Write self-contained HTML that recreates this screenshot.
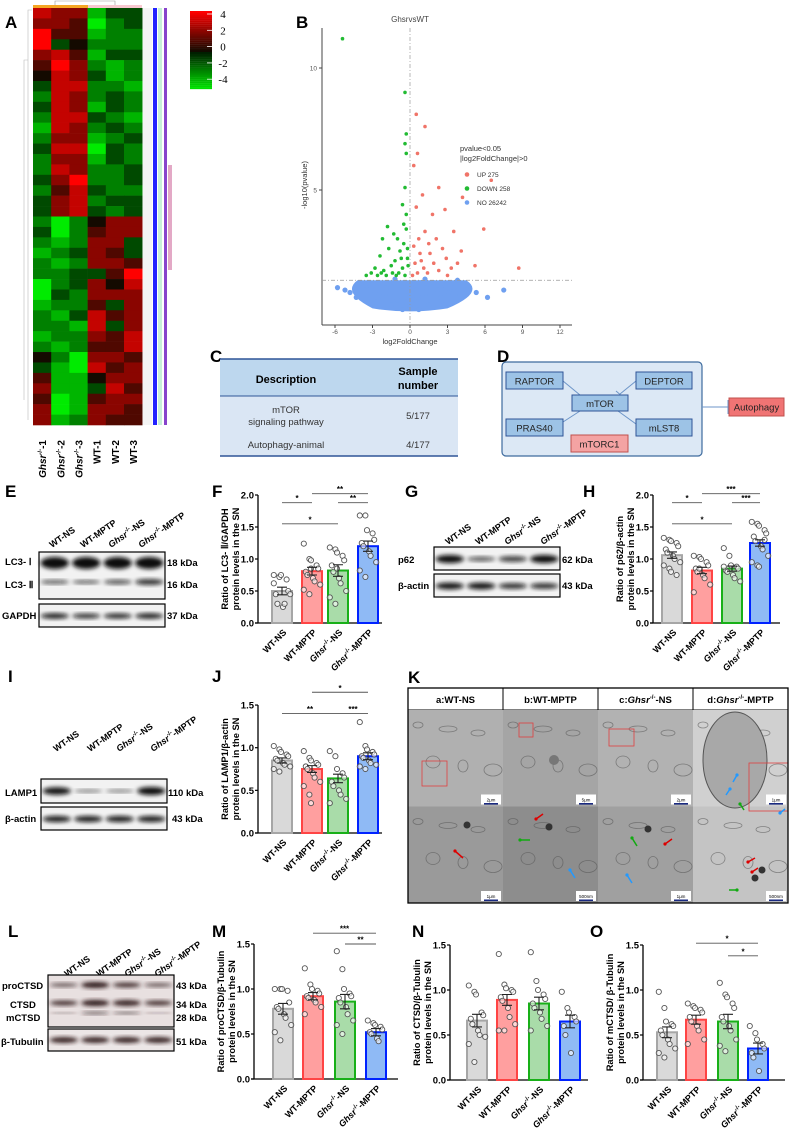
<!DOCTYPE html>
<html><head><meta charset="utf-8">
<style>
html,body{margin:0;padding:0;background:#fff;}
svg{display:block;font-family:"Liberation Sans",Arial,sans-serif;}
.b{font-weight:bold;}
</style></head>
<body>
<svg id="fig" width="790" height="1134" viewBox="0 0 790 1134" xmlns="http://www.w3.org/2000/svg">
<defs>
<filter id="blur" x="-20%" y="-50%" width="140%" height="200%"><feGaussianBlur stdDeviation="2"/></filter>
</defs>
<!-- panel letters -->
<g class="b" font-size="17" fill="#000">
<text x="5" y="28">A</text><text x="296" y="28">B</text><text x="210" y="362">C</text><text x="497" y="362">D</text>
<text x="5" y="497">E</text><text x="212" y="497">F</text><text x="405" y="497">G</text><text x="583" y="497">H</text>
<text x="8" y="682">I</text><text x="212" y="682">J</text><text x="408" y="683">K</text>
<text x="8" y="937">L</text><text x="212" y="937">M</text><text x="412" y="937">N</text><text x="590" y="937">O</text>
</g>
<g id="heat"></g>
<g id="volc"></g>
<!-- C table -->
<g>
<rect x="220" y="359" width="238" height="37" fill="#bdd7ee"/>
<rect x="220" y="396" width="238" height="60" fill="#dae6f4"/>
<line x1="220" y1="359" x2="458" y2="359" stroke="#2f5597" stroke-width="1.5"/>
<line x1="220" y1="396" x2="458" y2="396" stroke="#2f5597" stroke-width="1"/>
<line x1="220" y1="456" x2="458" y2="456" stroke="#2f5597" stroke-width="1.5"/>
<text x="286" y="383" font-size="11" class="b" text-anchor="middle">Description</text>
<text x="418" y="375" font-size="11" class="b" text-anchor="middle">Sample</text>
<text x="418" y="389" font-size="11" class="b" text-anchor="middle">number</text>
<text x="286" y="413" font-size="9.5" text-anchor="middle" fill="#333">mTOR</text>
<text x="286" y="425" font-size="9.5" text-anchor="middle" fill="#333">signaling pathway</text>
<text x="418" y="419" font-size="9.5" text-anchor="middle" fill="#333">5/177</text>
<text x="286" y="448" font-size="9.5" text-anchor="middle" fill="#333">Autophagy-animal</text>
<text x="418" y="448" font-size="9.5" text-anchor="middle" fill="#333">4/177</text>
</g>
<!-- D diagram -->
<g font-size="9.5" fill="#222">
<rect x="502" y="362" width="200" height="94" rx="4" fill="#dce8f5" stroke="#3e6b9e" stroke-width="1.2"/>
<line x1="563" y1="381" x2="580" y2="395" stroke="#6d95c8"/>
<line x1="636" y1="381" x2="620" y2="394" stroke="#6d95c8"/><line x1="616" y1="391" x2="623" y2="397" stroke="#6d95c8"/>
<line x1="563" y1="422" x2="580" y2="411" stroke="#6d95c8"/>
<line x1="636" y1="424" x2="618" y2="411" stroke="#6d95c8"/>
<line x1="702" y1="407" x2="729" y2="407" stroke="#6d95c8"/><line x1="728" y1="400" x2="728" y2="414" stroke="#6d95c8"/>
<rect x="506" y="372" width="57" height="17" fill="#9dc3e6" stroke="#2f5597"/><text x="534.5" y="384.5" text-anchor="middle">RAPTOR</text>
<rect x="636" y="372" width="56" height="17" fill="#9dc3e6" stroke="#2f5597"/><text x="664" y="384.5" text-anchor="middle">DEPTOR</text>
<rect x="572" y="395" width="56" height="16" fill="#9dc3e6" stroke="#2f5597"/><text x="600" y="407" text-anchor="middle">mTOR</text>
<rect x="506" y="419" width="57" height="17" fill="#9dc3e6" stroke="#2f5597"/><text x="534.5" y="431.5" text-anchor="middle">PRAS40</text>
<rect x="636" y="419" width="56" height="17" fill="#9dc3e6" stroke="#2f5597"/><text x="664" y="431.5" text-anchor="middle">mLST8</text>
<rect x="571" y="435" width="57" height="17" fill="#f4a3a3" stroke="#c0504d"/><text x="599.5" y="447.5" text-anchor="middle">mTORC1</text>
<rect x="729" y="398" width="55" height="18" fill="#f07474" stroke="#c0504d"/><text x="756.5" y="410.5" text-anchor="middle">Autophagy</text>
</g>
<g id="blots"></g>
<g id="charts"></g>
<g id="em"></g>
</svg>
<script>
const NS="http://www.w3.org/2000/svg";
function el(tag,attrs,parent,text){const e=document.createElementNS(NS,tag);for(const k in attrs)e.setAttribute(k,attrs[k]);if(text!==undefined)e.textContent=text;(parent||document.getElementById('fig')).appendChild(e);return e;}

/* ---------- Heatmap data ---------- */
const heatSamples=["Ghsr-1","Ghsr-2","Ghsr-3","WT-1","WT-2","WT-3"];
const heatRows=[
[3,2,2,-3,-1,-1],[2,2,1,-4,-2,-1],[4,1,1,-3,-2,-2],[4,-1,0,-2,-2,-2],[2,3,1,-3,-1,-1],
[1,4,2,-2,-3,-2],[0,3,2,-1,-3,-2],[-1,3,3,-2,-2,-3],[-2,3,2,-2,-1,-2],[-1,3,2,-3,-1,-2],
[-2,3,3,-1,-2,-3],[-3,3,2,-2,-1,-2],[-2,2,2,-3,-2,-1],[-1,3,3,-4,-1,-2],[-2,2,2,-3,-1,-2],
[-2,3,2,-2,-2,-1],[-1,2,4,-2,-2,-1],[-2,1,3,-1,-2,-2],[-1,2,3,-2,-1,-1],[-1,2,3,-1,-2,-1],
[-2,-4,-2,0,2,2],[-1,-4,-2,1,2,2],[-2,-3,-2,2,2,-1],[-3,-2,-1,2,1,-1],[-2,-3,-2,2,2,1],
[-2,-2,-1,-1,1,4],[-4,-2,-1,2,0,3],[-4,-1,-2,2,2,2],[-3,-2,-2,1,-1,2],[-2,-3,-1,3,1,2],
[-2,-2,-3,3,-1,2],[-3,-2,-2,2,1,3],[-2,-3,-2,1,1,3],[0,-2,-4,2,2,1],[-1,-3,-4,3,1,2],
[1,-3,-3,0,2,2],[2,-3,-3,-1,3,1],[1,-4,-3,1,2,2],[2,-4,-3,2,2,1],[2,-3,-2,2,1,1]];
function heatColor(v){const t=Math.min(1,Math.abs(v)/4);
 if(v>=0) return `rgb(${Math.round(20+235*t)},${Math.round(10*(1-t))},0)`;
 return `rgb(0,${Math.round(20+215*t)},0)`;}
(function(){
 const g=document.getElementById('heat');
 const x0=33,y0=8,cw=18.2,H=417,rh=H/heatRows.length;
 heatRows.forEach((row,i)=>{row.forEach((v,j)=>{
  const r=el('rect',{x:x0+j*cw,y:y0+i*rh,width:cw+0.3,height:rh+0.3,fill:heatColor(v)},g);
  
  
 });});
 el('rect',{x:33,y:5,width:55,height:3,fill:'#f5a623'},g);
 el('rect',{x:88,y:5,width:54,height:3,fill:'#f8c8d0'},g);
 el('path',{d:'M55 5 V1 H115 V5',stroke:'#999',fill:'none','stroke-width':0.6},g);
 el('path',{d:'M32 10 H28 V420 M28 60 H24 V400',stroke:'#bbb',fill:'none','stroke-width':0.6},g);
 el('rect',{x:143,y:8,width:9,height:417,fill:'#f4f4f4'},g);
 el('rect',{x:153,y:8,width:4,height:417,fill:'#2222ff'},g);
 el('rect',{x:158,y:8,width:4,height:417,fill:'#c8f0d8'},g);
 el('rect',{x:164,y:8,width:3,height:417,fill:'#8844cc'},g);
 el('rect',{x:168,y:165,width:4,height:105,fill:'#d070a0',opacity:0.6},g);
 heatSamples.forEach((s,j)=>{
  const cx=x0+j*cw+cw/2+4, cy=440;
  const t=el('text',{x:cx,y:cy,'font-size':10,'font-weight':'bold','text-anchor':'end',transform:`rotate(-90 ${cx} ${cy})`},g);
  
  
  if(s.startsWith('Ghsr')){el('tspan',{'font-style':'italic'},t,'Ghsr');el('tspan',{'font-size':6,dy:-4},t,'-/-');el('tspan',{dy:4},t,'-'+s.split('-')[1]);}
  else t.textContent=s;
 });
 const lg=el('g',{},g);
 for(let k=0;k<40;k++){const v=4-k*8/40;el('rect',{x:190,y:11+k*1.95,width:22,height:2.1,fill:heatColor(v)},lg);}
 [4,2,0,-2,-4].forEach((v,k)=>{const y=16+k*16.3;el('line',{x1:207,x2:212,y1:y-2,y2:y-2,stroke:'#fff','stroke-width':0.8},lg);el('text',{x:223,y:y+2,'font-size':11,'font-family':'Liberation Serif, serif','text-anchor':'middle'},lg,String(v));});
})();

/* ---------- Volcano data ---------- */
const volcXTicks=[-6,-3,0,3,6,9,12];
const volcYTicks=[5,10];
const downPts=[[-5.4,11.2],[-0.4,9],[-0.3,7.3],[-0.4,6.9],[-0.3,6.5],[-0.4,5.1],[-0.6,4.4],[-1.8,3.5],[-2.2,3.0],[-1.3,3.2],[-1.0,3.0],[-1.7,2.6],[-2.4,2.3],[-2.8,1.8],[-3.1,1.6],[-2.1,1.7],[-1.5,1.9],[-1.2,2.1],[-0.8,2.5],[-0.5,2.8],[-0.3,3.4],[-0.2,2.2],[-0.6,1.8],[-0.9,1.6],[-1.9,1.5],[-3.5,1.5],[-2.6,1.5],[-0.4,1.5],[-0.15,1.9],[-0.7,2.2],[-1.4,1.6],[-0.2,2.6],[-1.1,1.5],[-2.3,1.6],[-0.3,4.0],[-0.5,3.6]];
const upPts=[[0.5,8.1],[1.2,7.6],[0.6,6.5],[0.3,6.0],[6.5,5.4],[2.3,5.1],[4.2,4.7],[1.0,4.8],[2.8,4.2],[1.8,4.0],[0.5,4.3],[5.9,3.4],[3.5,3.3],[2.1,3.0],[1.2,3.3],[0.7,3.0],[0.3,2.7],[4.1,2.5],[2.9,2.2],[1.6,2.4],[0.9,2.1],[0.4,2.0],[3.3,1.8],[2.3,1.7],[1.4,1.6],[0.6,1.6],[5.2,1.9],[8.7,1.8],[1.9,2.0],[0.2,1.5],[3.0,1.5],[1.1,1.8],[2.6,2.6],[1.5,2.8],[0.8,2.4],[3.8,2.0]];
const noPts=[[-5.2,0.9],[-4.8,0.8],[-4.3,0.6],[-3.6,0.9],[-3.2,1.1],[-2.8,0.8],[-2.5,1.2],[-2.2,0.6],[-1.9,1.0],[-1.6,0.7],[-1.3,1.2],[-1.0,0.5],[-0.8,0.9],[-0.5,1.2],[-0.3,0.4],[-0.1,0.8],[0.1,1.1],[0.3,0.5],[0.5,0.9],[0.8,1.2],[1.0,0.6],[1.3,1.0],[1.6,0.7],[1.9,1.2],[2.2,0.9],[2.5,0.6],[2.8,1.1],[3.1,0.8],[3.5,1.0],[4.0,0.7],[4.5,0.9],[5.3,0.8],[6.2,0.6],[-1.5,0.3],[0.0,0.2],[1.5,0.3],[-2.7,0.4],[2.7,0.3],[-0.6,0.1],[0.7,0.1],[-3.9,1.2],[3.8,1.3],[1.2,1.35],[-1.2,1.35],[7.5,0.9],[-5.8,1.0]];
(function(){
 const g=document.getElementById('volc');
 const X=v=>410+12.5*v, Y=v=>312-24.4*v;
 el('text',{x:410,y:22,'font-size':8,'text-anchor':'middle',fill:'#444'},g,'GhsrvsWT');
 el('line',{x1:322,y1:28,x2:322,y2:325,stroke:'#444'},g);
 el('line',{x1:322,y1:325,x2:572,y2:325,stroke:'#444'},g);
 volcYTicks.forEach(v=>{el('line',{x1:319,x2:322,y1:Y(v),y2:Y(v),stroke:'#444'},g);el('text',{x:317,y:Y(v)+2.5,'font-size':6.5,'text-anchor':'end',fill:'#555'},g,String(v));});
 volcXTicks.forEach(v=>{el('line',{x1:X(v),x2:X(v),y1:325,y2:328,stroke:'#444'},g);el('text',{x:X(v),y:334,'font-size':6.5,'text-anchor':'middle',fill:'#555'},g,String(v));});
 el('text',{x:410,y:344,'font-size':7.5,'text-anchor':'middle',fill:'#333'},g,'log2FoldChange');
 el('text',{x:307,y:185,'font-size':7.5,'text-anchor':'middle',fill:'#333',transform:'rotate(-90 307 185)'},g,'-log10(pvalue)');
 el('path',{d:`M${X(-4.2)} ${Y(1.3)} L${X(4.5)} ${Y(1.3)} Q${X(6)} ${Y(0.8)} ${X(3)} ${Y(0.15)} Q${X(0)} ${Y(-0.1)} ${X(-3)} ${Y(0.15)} Q${X(-5.5)} ${Y(0.8)} ${X(-4.2)} ${Y(1.3)}Z`,fill:'#6fa0f0'},g);
 noPts.forEach(p=>{const c=el('circle',{cx:X(p[0]),cy:Y(p[1]),r:2.6,fill:'#6fa0f0'},g);});
 downPts.forEach(p=>{const c=el('circle',{cx:X(p[0]),cy:Y(p[1]),r:1.8,fill:'#22bb33'},g);});
 upPts.forEach(p=>{const c=el('circle',{cx:X(p[0]),cy:Y(p[1]),r:1.8,fill:'#f07468'},g);});
 el('line',{x1:322,x2:572,y1:Y(1.3),y2:Y(1.3),stroke:'#999','stroke-dasharray':'4 2 1 2','stroke-width':0.7},g);
 el('line',{x1:410,x2:410,y1:28,y2:325,stroke:'#999','stroke-dasharray':'4 2 1 2','stroke-width':0.7},g);
 const lg=el('g',{'font-size':7.5,fill:'#333'},g);
 el('text',{x:460,y:151},lg,'pvalue<0.05');el('text',{x:460,y:161},lg,'|log2FoldChange|>0');
 [['UP 275','#f07468',177],['DOWN 258','#22bb33',191],['NO 26242','#6fa0f0',205]].forEach(a=>{el('circle',{cx:467,cy:a[2]-2.5,r:2.3,fill:a[1]},lg);el('text',{x:477,y:a[2],'font-size':6.5},lg,a[0]);});
})();

/* ---------- Blots ---------- */
function blot(x,y,w,h,bands,parent,name){
 const g=el('g',{},parent);
 el('rect',{x:x,y:y,width:w,height:h,fill:'#f2f2f2',stroke:'#000','stroke-width':1.2},g);
 const lw=w/4;
 bands.forEach(b=>{b.v.forEach((s,i)=>{if(s<=0)return;el('ellipse',{cx:x+lw*i+lw/2,cy:y+b.y,rx:lw*0.45,ry:b.h*s,fill:b.c||'#111',opacity:Math.min(1,0.35+0.65*s),filter:'url(#blur)'},g);});});
 return g;
}
function laneLabels(xs,y,parent){
 const labs=['WT-NS','WT-MPTP','NS','MPTP'];
 xs.forEach((cx,i)=>{const t=el('text',{x:cx,y:y,'font-size':9,'font-weight':'bold',transform:`rotate(-35 ${cx} ${y})`},parent);
  
  if(i<2)t.textContent=labs[i];else{el('tspan',{'font-style':'italic'},t,'Ghsr');el('tspan',{'font-size':6,dy:-4},t,'-/-');el('tspan',{dy:4},t,'-'+labs[i]);}});
}
(function(){
 const g=document.getElementById('blots');
 const T=(x,y,s,fs,a)=>el('text',{x:x,y:y,'font-size':fs||9.5,'font-weight':'bold','text-anchor':a||'start'},g,s);
 laneLabels([52,83,111,141],548,g);
 blot(39,552,126,47,[{y:11,h:6,v:[1,1,1,1]},{y:30,h:3.5,v:[0.55,0.5,0.6,0.8]}],g,'lc3-blot');
 blot(39,604,126,23,[{y:12,h:3,v:[0.9,0.8,0.85,0.9]}],g,'gapdh-blot');
 T(5,565,'LC3- Ⅰ');T(5,588,'LC3- Ⅱ');T(2,619,'GAPDH');T(167,566,'18 kDa');T(167,588,'16 kDa');T(167,619,'37 kDa');
 laneLabels([448,478,507,543],545,g);
 blot(434,547,126,23,[{y:12,h:4,v:[1,0.55,0.7,1]}],g,'p62-blot');
 blot(434,574,126,23,[{y:12,h:3.5,v:[0.95,0.95,0.8,0.8]}],g,'p62-actin-blot');
 T(398,563,'p62');T(398,589,'β-actin');T(562,563,'62 kDa');T(562,589,'43 kDa');
 laneLabels([56,90,119,153],752,g);
 blot(41,779,126,24,[{y:12,h:4,v:[0.95,0.35,0.35,1]}],g,'lamp1-blot');
 blot(41,807,126,23,[{y:12,h:3.5,v:[0.9,0.9,0.9,0.9]}],g,'lamp1-actin-blot');
 T(5,796,'LAMP1');T(5,822,'β-actin');T(168,796,'110 kDa');T(172,822,'43 kDa');
 laneLabels([67,99,127,157],977,g);
 const lg=blot(48,975,126,52,[{y:10,h:3,v:[0.6,1,0.8,0.6],c:'#2a1518'},{y:28,h:3,v:[0.8,1,0.95,0.8],c:'#2a1518'},{y:38,h:2.5,v:[0.3,0.55,0.5,0.25],c:'#2a1518'}],g,'ctsd-blot');
 lg.firstChild.setAttribute('fill','#e8e0e0');
 const lt=blot(48,1029,126,22,[{y:11,h:3,v:[0.95,0.95,0.95,0.95],c:'#2a1518'}],g,'tubulin-blot');
 lt.firstChild.setAttribute('fill','#ece6e6');
 T(2,989,'proCTSD');T(10,1008,'CTSD');T(6,1021,'mCTSD');T(1,1045,'β-Tubulin');
 T(176,989,'43 kDa');T(176,1008,'34 kDa');T(176,1021,'28 kDa');T(176,1045,'51 kDa');
})();

/* ---------- Bar chart data ---------- */
const groups=['WT-NS','WT-MPTP','Ghsr-NS','Ghsr-MPTP'];
const fMeans=[0.50,0.81,0.82,1.20]; const fSem=[0.06,0.06,0.09,0.08];
const fPts=[[0.75,0.72,0.75,0.68,0.50,0.45,0.30,0.25,0.30,0.45,0.62],[1.24,1.00,0.98,0.90,0.85,0.80,0.75,0.70,0.65,0.60,0.52,0.45,0.85],[1.18,1.15,1.10,1.05,0.98,0.90,0.80,0.70,0.62,0.50,0.40,0.30,0.85],[1.68,1.68,1.45,1.40,1.30,1.25,1.20,1.12,1.05,0.95,0.82,0.72]];
const fSig=[[0,1,1.88,'*'],[0,2,1.55,'*'],[2,3,1.88,'**'],[1,3,2.02,'**']];
const hMeans=[1.06,0.82,0.85,1.25]; const hSem=[0.05,0.05,0.04,0.05];
const hPts=[[1.33,1.30,1.28,1.25,1.20,1.15,1.10,1.05,1.00,0.95,0.90,0.85,0.80,0.75],[1.05,1.03,1.00,0.95,0.90,0.85,0.80,0.75,0.70,0.60,0.48,0.85],[1.17,1.05,0.90,0.88,0.85,0.82,0.80,0.75,0.70,0.65,0.88],[1.58,1.55,1.52,1.45,1.40,1.35,1.28,1.20,1.15,1.05,0.95,0.90,0.88,1.30]];
const hSig=[[0,1,1.88,'*'],[0,2,1.55,'*'],[2,3,1.88,'***'],[1,3,2.02,'***']];
const jMeans=[0.85,0.75,0.64,0.90]; const jSem=[0.03,0.04,0.05,0.04];
const jPts=[[1.02,0.98,0.95,0.92,0.90,0.87,0.85,0.82,0.80,0.78,0.75,0.72],[0.96,0.88,0.85,0.82,0.80,0.78,0.75,0.70,0.65,0.60,0.55,0.45,0.35],[0.96,0.90,0.75,0.70,0.65,0.60,0.55,0.50,0.45,0.40,0.35],[1.30,1.02,0.98,0.95,0.92,0.90,0.88,0.85,0.82,0.80,0.78,0.75]];
const jSig=[[0,2,1.40,'**'],[2,3,1.40,'***'],[1,3,1.65,'*']];
const mMeans=[0.78,0.92,0.86,0.52]; const mSem=[0.06,0.04,0.08,0.04];
const mPts=[[1.00,1.00,1.00,0.98,0.85,0.80,0.78,0.72,0.68,0.60,0.52,0.43],[1.23,1.05,1.00,0.98,0.95,0.92,0.90,0.88,0.85,0.80,0.72],[1.42,1.22,1.00,0.95,0.92,0.90,0.85,0.80,0.72,0.65,0.60,0.50],[0.65,0.62,0.60,0.58,0.55,0.52,0.50,0.45,0.42]];
const mSig=[[1,3,1.62,'***'],[2,3,1.50,'**']];
const nMeans=[0.66,0.89,0.85,0.65]; const nSem=[0.07,0.06,0.07,0.07];
const nPts=[[1.05,0.98,0.95,0.75,0.72,0.68,0.62,0.55,0.50,0.48,0.40,0.20],[1.40,1.06,1.02,1.00,0.98,0.92,0.88,0.80,0.70,0.62,0.55,0.55],[1.42,1.10,1.00,0.95,0.90,0.85,0.80,0.75,0.68,0.60,0.55],[0.98,0.80,0.75,0.70,0.65,0.60,0.50,0.30]];
const nSig=[];
const oMeans=[0.53,0.67,0.65,0.35]; const oSem=[0.06,0.05,0.08,0.06];
const oPts=[[0.98,0.80,0.65,0.62,0.60,0.55,0.50,0.45,0.40,0.35,0.30,0.25],[0.85,0.82,0.80,0.78,0.75,0.70,0.65,0.60,0.55,0.45,0.40],[1.08,0.95,0.92,0.85,0.80,0.70,0.65,0.60,0.55,0.45,0.38,0.32],[0.60,0.52,0.45,0.40,0.35,0.30,0.25,0.10]];
const oSig=[[1,3,1.52,'*'],[2,3,1.38,'*']];

const fills=['#d9d9d9','#ff9f9f','#a9dca9','#8fbaf5'];
const strokes=['#a6a6a6','#ff4444','#18b018','#0022ff'];
function chart(name,c,means,sem,pts,sig){
 const g=el('g',{},document.getElementById('charts'));
 
 const Y=v=>c.y0-c.k*v;
 const X=i=>c.xs[i];
 el('line',{x1:c.ax,x2:c.ax,y1:Y(c.max),y2:c.y0,stroke:'#000','stroke-width':1.3},g);
 el('line',{x1:c.ax-3,x2:c.xe,y1:c.y0,y2:c.y0,stroke:'#000','stroke-width':1.3},g);
 c.ticks.forEach(t=>{el('line',{x1:c.ax-3,x2:c.ax,y1:Y(t),y2:Y(t),stroke:'#000','stroke-width':1.2},g);
  const tl=el('text',{x:c.ax-4,y:Y(t)+3.5,'font-size':9.5,'font-weight':'bold','text-anchor':'end'},g,t.toFixed(1));
  });
 const mid=(Y(c.max)+c.y0)/2;
 c.title.forEach((s,i)=>{const tx=c.ax-30+i*11;const t=el('text',{x:tx,y:mid,'font-size':9.3,'font-weight':'bold','text-anchor':'middle',transform:`rotate(-90 ${tx} ${mid})`},g,s);
  });
 means.forEach((m,i)=>{
  const b=el('rect',{x:X(i)-10,y:Y(m),width:20,height:c.y0-Y(m),fill:fills[i],stroke:strokes[i],'stroke-width':2},g);
  
  pts[i].forEach((p,j)=>{const off=((j%5)-2)*3.6+((j%2)?1:-1);const d=el('circle',{cx:X(i)+off,cy:Y(p),r:2.6,fill:'#fff',stroke:'#555','stroke-width':0.9,'fill-opacity':0.6},g);
   });
  const e=el('path',{d:`M${X(i)} ${Y(m-sem[i])} V${Y(m+sem[i])} M${X(i)-5} ${Y(m+sem[i])} H${X(i)+5} M${X(i)-5} ${Y(m-sem[i])} H${X(i)+5}`,stroke:'#222','stroke-width':1.1,fill:'none'},g);
  
  const lx=X(i)+5, ly=c.y0+10;
  const t=el('text',{x:lx,y:ly,'font-size':9,'font-weight':'bold','text-anchor':'end',transform:`rotate(-45 ${lx} ${ly})`},g);
  
  if(i<2)t.textContent=groups[i];else{el('tspan',{'font-style':'italic'},t,'Ghsr');el('tspan',{'font-size':6,dy:-4},t,'-/-');el('tspan',{dy:4},t,'-'+(i==2?'NS':'MPTP'));}
 });
 sig.forEach(s=>{const l=el('line',{x1:X(s[0]),x2:X(s[1]),y1:Y(s[2]),y2:Y(s[2]),stroke:'#555','stroke-width':0.9},g);
  
  el('text',{x:(X(s[0])+X(s[1]))/2,y:Y(s[2])-1.5,'font-size':8,'text-anchor':'middle','font-weight':'bold'},g,s[3]);});
}
chart('chart-lc3',{ax:258,xe:382,y0:623,k:64,max:2.0,ticks:[0,0.5,1,1.5,2],xs:[282,312,338,368],title:['Ratio of LC3- Ⅱ/GAPDH','protein levels in the SN']},fMeans,fSem,fPts,fSig);
chart('chart-p62',{ax:653,xe:780,y0:623,k:64,max:2.0,ticks:[0,0.5,1,1.5,2],xs:[672,702,732,760],title:['Ratio of p62/β-actin','protein levels in the SN']},hMeans,hSem,hPts,hSig);
chart('chart-lamp1',{ax:258,xe:382,y0:833,k:85.3,max:1.5,ticks:[0,0.5,1,1.5],xs:[282,312,338,368],title:['Ratio of LAMP1/β-actin','protein levels in the SN']},jMeans,jSem,jPts,jSig);
chart('chart-proctsd',{ax:254,xe:398,y0:1079,k:90,max:1.5,ticks:[0,0.5,1,1.5],xs:[283,313,345,376],title:['Ratio of proCTSD/β-Tubulin','protein levels in the SN']},mMeans,mSem,mPts,mSig);
chart('chart-ctsd',{ax:450,xe:588,y0:1080,k:90,max:1.5,ticks:[0,0.5,1,1.5],xs:[477,507,539,570],title:['Ratio of CTSD/β-Tubulin','protein levels in the SN']},nMeans,nSem,nPts,nSig);
chart('chart-mctsd',{ax:643,xe:785,y0:1080,k:90,max:1.5,ticks:[0,0.5,1,1.5],xs:[667,696,728,758],title:['Ratio of mCTSD/ β-Tubulin','protein levels in the SN']},oMeans,oSem,oPts,oSig);

/* ---------- TEM grid ---------- */
(function(){
 const g=document.getElementById('em');
 const xs=[408,503,598,693,788];
 el('rect',{x:408,y:688,width:380,height:22,fill:'#fff',stroke:'#000','stroke-width':1},g);
 const heads=[['a:WT-NS'],['b:WT-MPTP'],['c:','-NS'],['d:','-MPTP']];
 heads.forEach((h,i)=>{const t=el('text',{x:(xs[i]+xs[i+1])/2,y:703,'font-size':9.5,'font-weight':'bold','text-anchor':'middle'},g);
  
  if(h.length==1)t.textContent=h[0];else{el('tspan',{},t,h[0]);el('tspan',{'font-style':'italic'},t,'Ghsr');el('tspan',{'font-size':6,dy:-4},t,'-/-');el('tspan',{dy:4},t,h[1]);}
  if(i>0)el('line',{x1:xs[i],x2:xs[i],y1:688,y2:903,stroke:'#000','stroke-width':1},g);});
 const tones=[['#b0b0b0','#9a9a9a'],['#a5a5a5','#8d8d8d'],['#b2b2b2','#a0a0a0'],['#d0d0d0','#c4c4c4']];
 const scales=[['2μm','1μm'],['5μm','500nm'],['2μm','1μm'],['1μm','500nm']];
 for(let i=0;i<4;i++)for(let r=0;r<2;r++){
  const x=xs[i],y=710+r*96.5,w=95,h=96.5;
  const im=el('rect',{x:x,y:y,width:w,height:h,fill:tones[i][r]},g);
  
  for(let k=0;k<6;k++)el('ellipse',{cx:x+10+k*15,cy:y+15+((k*37)%70),rx:5+(k%3)*2,ry:3+(k%2)*3,fill:'none',stroke:'#555','stroke-width':0.8,opacity:0.6},g);
  el('rect',{x:x+w-22,y:y+h-12,width:20,height:10,fill:'#fff'},g);
  el('text',{x:x+w-12,y:y+h-5,'font-size':4.5,'text-anchor':'middle'},g,scales[i][r]);
  el('rect',{x:x+w-19,y:y+h-3.5,width:14,height:1.6,fill:'#1a2a80'},g);
 }
 el('ellipse',{cx:735,cy:760,rx:32,ry:48,fill:'#a8a8a8',stroke:'#555'},g);
 el('circle',{cx:554,cy:760,r:5,fill:'#777'},g);
 [[422,761,25,25],[519,723,14,14],[609,729,25,17],[749,763,39,48]].forEach(b=>el('rect',{x:b[0],y:b[1],width:b[2],height:b[3],fill:'none',stroke:'#e04040','stroke-width':0.8},g));
 const arrows=[[463,858,455,851,'#d00'],[543,814,536,819,'#d00'],[530,840,520,840,'#1a1'],[575,878,570,870,'#29f'],[637,846,632,838,'#1a1'],[672,839,665,844,'#d00'],[632,883,627,875,'#29f'],[733,782,737,775,'#29f'],[726,795,730,789,'#29f'],[744,810,740,804,'#1a1'],[785,809,780,813,'#29f'],[755,858,748,862,'#d00'],[758,868,752,872,'#d00'],[729,890,737,890,'#1a1']];
 arrows.forEach(a=>{const p=el('line',{x1:a[0],y1:a[1],x2:a[2],y2:a[3],stroke:a[4],'stroke-width':1.5},g);el('circle',{cx:a[2],cy:a[3],r:1.6,fill:a[4]},g);});
 [[467,825],[549,827],[648,829],[755,878],[762,870]].forEach(c=>el('circle',{cx:c[0],cy:c[1],r:3.5,fill:'#333'},g));
 el('rect',{x:408,y:688,width:380,height:215,fill:'none',stroke:'#000','stroke-width':1.3},g);
})();
</script>
</body></html>
